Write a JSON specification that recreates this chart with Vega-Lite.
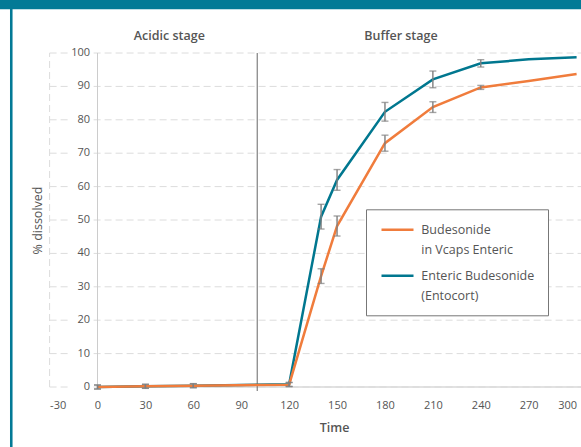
{
  "$schema": "https://vega.github.io/schema/vega-lite/v6.json",
  "width": 527,
  "height": 334,
  "autosize": {"type": "none"},
  "padding": {"left": 49.6, "top": 53, "right": 4.4, "bottom": 60},
  "background": "white",
  "config": {"view": {"stroke": null}, "font": "Open Sans"},
  "datasets": {
    "dissolution": [
      {"series": "Enteric Budesonide (Entocort)", "time": 0, "value": 0.0, "lo": -0.6, "hi": 0.6},
      {"series": "Enteric Budesonide (Entocort)", "time": 30, "value": 0.2, "lo": -0.4, "hi": 0.8},
      {"series": "Enteric Budesonide (Entocort)", "time": 60, "value": 0.4, "lo": -0.2, "hi": 1.0},
      {"series": "Enteric Budesonide (Entocort)", "time": 120, "value": 0.8, "lo": 0.2, "hi": 1.4},
      {"series": "Enteric Budesonide (Entocort)", "time": 140, "value": 51.0, "lo": 47.3, "hi": 54.7},
      {"series": "Enteric Budesonide (Entocort)", "time": 150, "value": 62.0, "lo": 58.9, "hi": 65.1},
      {"series": "Enteric Budesonide (Entocort)", "time": 180, "value": 82.4, "lo": 79.6, "hi": 85.2},
      {"series": "Enteric Budesonide (Entocort)", "time": 210, "value": 92.1, "lo": 89.6, "hi": 94.6},
      {"series": "Enteric Budesonide (Entocort)", "time": 240, "value": 96.9, "lo": 95.8, "hi": 98.0},
      {"series": "Enteric Budesonide (Entocort)", "time": 270, "value": 98.1, "lo": null, "hi": null},
      {"series": "Enteric Budesonide (Entocort)", "time": 300, "value": 98.7, "lo": null, "hi": null},
      {"series": "Budesonide in Vcaps Enteric", "time": 0, "value": 0.0, "lo": -0.6, "hi": 0.6},
      {"series": "Budesonide in Vcaps Enteric", "time": 30, "value": 0.2, "lo": -0.4, "hi": 0.8},
      {"series": "Budesonide in Vcaps Enteric", "time": 60, "value": 0.4, "lo": -0.2, "hi": 1.0},
      {"series": "Budesonide in Vcaps Enteric", "time": 120, "value": 0.7, "lo": 0.1, "hi": 1.3},
      {"series": "Budesonide in Vcaps Enteric", "time": 140, "value": 33.2, "lo": 31.0, "hi": 35.4},
      {"series": "Budesonide in Vcaps Enteric", "time": 150, "value": 48.2, "lo": 45.2, "hi": 51.2},
      {"series": "Budesonide in Vcaps Enteric", "time": 180, "value": 73.0, "lo": 70.6, "hi": 75.4},
      {"series": "Budesonide in Vcaps Enteric", "time": 210, "value": 83.8, "lo": 82.2, "hi": 85.4},
      {"series": "Budesonide in Vcaps Enteric", "time": 240, "value": 89.7, "lo": 89.1, "hi": 90.3},
      {"series": "Budesonide in Vcaps Enteric", "time": 270, "value": 91.6, "lo": null, "hi": null},
      {"series": "Budesonide in Vcaps Enteric", "time": 300, "value": 93.7, "lo": null, "hi": null}
    ],
    "gridvals": [
      {"v": 0}, {"v": 10}, {"v": 20}, {"v": 30}, {"v": 40}, {"v": 50},
      {"v": 60}, {"v": 70}, {"v": 80}, {"v": 90}, {"v": 100}
    ],
    "stages": [
      {"stage": "Acidic stage", "time": 45, "pct": 105},
      {"stage": "Buffer stage", "time": 190, "pct": 105}
    ],
    "one": [{"k": 1}]
  },
  "layer": [
    {
      "data": {"name": "one"},
      "mark": {"type": "rect", "color": "#037a96", "clip": false},
      "encoding": {
        "x": {"datum": -62, "type": "quantitative", "scale": {"domain": [-30, 300], "nice": false, "zero": false}},
        "x2": {"datum": 320},
        "y": {"datum": 113.1, "type": "quantitative", "scale": {"domain": [0, 100], "nice": false, "zero": false}},
        "y2": {"datum": 117}
      }
    },
    {
      "data": {"name": "one"},
      "mark": {"type": "rect", "color": "#037a96", "clip": false},
      "encoding": {
        "x": {"datum": -54.8, "type": "quantitative", "scale": {"domain": [-30, 300], "nice": false, "zero": false}},
        "x2": {"datum": -53.2},
        "y": {"datum": 113.2, "type": "quantitative", "scale": {"domain": [0, 100], "nice": false, "zero": false}},
        "y2": {"datum": -20}
      }
    },
    {
      "data": {"name": "gridvals"},
      "mark": {"type": "rule", "color": "#dcdcdc", "strokeWidth": 1, "strokeDash": [7, 4], "clip": false},
      "encoding": {
        "x": {"datum": -30, "type": "quantitative", "scale": {"domain": [-30, 300], "nice": false, "zero": false}},
        "x2": {"datum": 303},
        "y": {"field": "v", "type": "quantitative", "scale": {"domain": [0, 100], "nice": false, "zero": false}}
      }
    },
    {
      "data": {"name": "one"},
      "mark": {"type": "rule", "color": "#dcdcdc", "strokeWidth": 1, "strokeDash": [7, 4]},
      "encoding": {
        "x": {"datum": -30, "type": "quantitative", "scale": {"domain": [-30, 300], "nice": false, "zero": false}},
        "y": {"datum": 0, "type": "quantitative", "scale": {"domain": [0, 100], "nice": false, "zero": false}},
        "y2": {"datum": 100}
      }
    },
    {
      "data": {"name": "gridvals"},
      "mark": {"type": "rule", "color": "white", "strokeWidth": 9},
      "encoding": {
        "x": {"datum": -17.2, "type": "quantitative", "scale": {"domain": [-30, 300], "nice": false, "zero": false}},
        "x2": {"datum": -3.4},
        "y": {"field": "v", "type": "quantitative", "scale": {"domain": [0, 100], "nice": false, "zero": false}}
      }
    },
    {
      "data": {"name": "gridvals"},
      "mark": {"type": "text", "fontSize": 11, "color": "#555555", "align": "right", "baseline": "middle"},
      "encoding": {
        "x": {"datum": -4.7, "type": "quantitative", "scale": {"domain": [-30, 300], "nice": false, "zero": false}},
        "y": {"field": "v", "type": "quantitative", "scale": {"domain": [0, 100], "nice": false, "zero": false}},
        "text": {"field": "v", "type": "quantitative", "format": "d"}
      }
    },
    {
      "data": {"name": "one"},
      "mark": {"type": "rule", "color": "#cccccc", "strokeWidth": 1},
      "encoding": {
        "x": {"datum": 0, "type": "quantitative", "scale": {"domain": [-30, 300], "nice": false, "zero": false}},
        "y": {"datum": 0, "type": "quantitative", "scale": {"domain": [0, 100], "nice": false, "zero": false}},
        "y2": {"datum": 100}
      }
    },
    {
      "data": {"name": "one"},
      "mark": {"type": "rule", "color": "#d9d9d9", "strokeWidth": 1.5, "clip": false},
      "encoding": {
        "x": {"datum": 0, "type": "quantitative", "scale": {"domain": [-30, 300], "nice": false, "zero": false}},
        "x2": {"datum": 303},
        "y": {"datum": 0, "type": "quantitative", "scale": {"domain": [0, 100], "nice": false, "zero": false}}
      }
    },
    {
      "data": {"name": "one"},
      "mark": {"type": "rule", "color": "#666666", "strokeWidth": 1, "clip": false},
      "encoding": {
        "x": {"datum": 100, "type": "quantitative", "scale": {"domain": [-30, 300], "nice": false, "zero": false}},
        "y": {"datum": -1.2, "type": "quantitative", "scale": {"domain": [0, 100], "nice": false, "zero": false}},
        "y2": {"datum": 100}
      }
    },
    {
      "data": {"name": "stages"},
      "mark": {"type": "text", "fontSize": 12.5, "fontWeight": 600, "color": "#555555", "align": "center", "baseline": "middle", "clip": false},
      "encoding": {
        "x": {"field": "time", "type": "quantitative", "scale": {"domain": [-30, 300], "nice": false, "zero": false}},
        "y": {"field": "pct", "type": "quantitative", "scale": {"domain": [0, 100], "nice": false, "zero": false}},
        "text": {"field": "stage"}
      }
    },
    {
      "data": {"name": "dissolution"},
      "mark": {"type": "line", "strokeWidth": 2.5, "clip": false},
      "encoding": {
        "x": {
          "field": "time", "type": "quantitative",
          "scale": {"domain": [-30, 300], "nice": false, "zero": false},
          "axis": {
            "values": [-30, 0, 30, 60, 90, 120, 150, 180, 210, 240, 270, 300],
            "labelExpr": "'' + datum.value",
            "domain": false, "ticks": false, "grid": false,
            "labelFontSize": 11, "labelColor": "#555555", "labelPadding": 12,
            "title": "Time", "titleFontSize": 12.5, "titleFontWeight": 600, "titleColor": "#555555",
            "titleX": 284.4, "titleY": 40, "titleBaseline": "middle"
          }
        },
        "y": {
          "field": "value", "type": "quantitative",
          "title": "% dissolved",
          "scale": {"domain": [0, 100], "nice": false, "zero": false},
          "axis": {
            "labels": false, "domain": false, "ticks": false, "grid": false,
            "title": "% dissolved", "titleFontSize": 12.5, "titleFontWeight": "normal", "titleColor": "#555555",
            "titleX": -12.6, "titleY": 167, "titleBaseline": "middle"
          }
        },
        "color": {
          "field": "series", "type": "nominal",
          "scale": {"domain": ["Budesonide in Vcaps Enteric", "Enteric Budesonide (Entocort)"], "range": ["#f07c3c", "#00778f"]},
          "legend": {
            "orient": "none", "legendX": 316.4, "legendY": 156.3,
            "title": null,
            "strokeColor": "#777777", "fillColor": "white", "padding": 13,
            "symbolType": "M-0.833,0L4.5,0", "symbolSize": 144, "symbolStrokeWidth": 2.5,
            "labelFontSize": 12.5, "labelColor": "#555555", "labelOffset": 27.3, "labelLimit": 300,
            "rowPadding": 12,
            "labelExpr": "datum.label == 'Budesonide in Vcaps Enteric' ? ['Budesonide', 'in Vcaps Enteric'] : ['Enteric Budesonide', '(Entocort)']",
            "encode": {"labels": {"update": {"lineHeight": {"value": 20}}}}
          }
        },
        "order": {"field": "time", "type": "quantitative"}
      }
    },
    {
      "data": {"name": "dissolution"},
      "transform": [{"filter": "isValid(datum.lo)"}],
      "mark": {"type": "errorbar", "color": "#7f7f7f", "thickness": 1.4, "ticks": {"size": 7, "color": "#7f7f7f"}},
      "encoding": {
        "x": {"field": "time", "type": "quantitative", "scale": {"domain": [-30, 300], "nice": false, "zero": false}},
        "y": {"field": "lo", "type": "quantitative", "title": "% dissolved", "scale": {"domain": [0, 100], "nice": false, "zero": false}},
        "y2": {"field": "hi"}
      }
    }
  ]
}
